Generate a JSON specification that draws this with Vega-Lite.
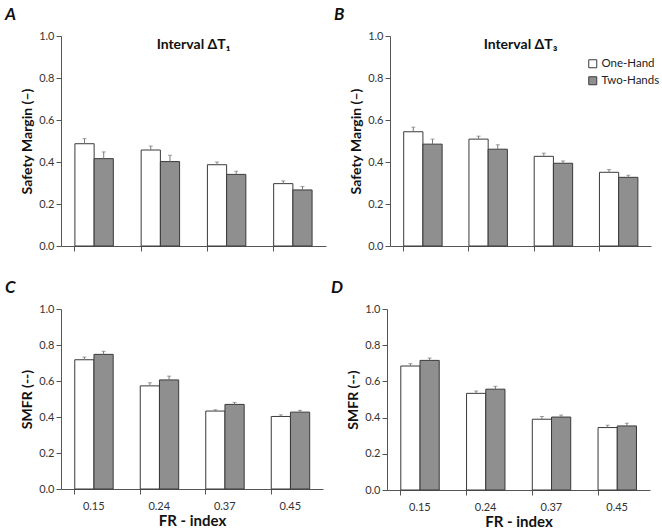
{
  "$schema": "https://vega.github.io/schema/vega-lite/v6.json",
  "padding": {"left": 5, "top": 6, "right": 5, "bottom": 2},
  "background": "white",
  "config": {
    "font": "Lato",
    "view": {"stroke": null},
    "axis": {"domainColor": "#555555", "tickColor": "#555555", "labelColor": "#333333", "labelFont": "Lato", "labelFontSize": 11, "titleFont": "Lato", "titleFontSize": 14, "titleFontWeight": "bold", "titleColor": "#111111", "grid": false},
    "axisY": {"tickCount": 6, "values": [0, 0.2, 0.4, 0.6, 0.8, 1.0], "format": ".1f", "labelOverlap": false, "titlePadding": 4},
    "title": {"font": "Lato", "fontSize": 17, "fontWeight": "bold", "fontStyle": "italic", "anchor": "start", "frame": "group", "dx": -56, "offset": 6, "color": "#111111"}
  },
  "datasets": {
    "bars": [
      {"panel": "A", "fr": "0.15", "hand": "One-Hand", "value": 0.487, "upper": 0.511},
      {"panel": "A", "fr": "0.15", "hand": "Two-Hands", "value": 0.416, "upper": 0.448},
      {"panel": "A", "fr": "0.24", "hand": "One-Hand", "value": 0.457, "upper": 0.476},
      {"panel": "A", "fr": "0.24", "hand": "Two-Hands", "value": 0.402, "upper": 0.432},
      {"panel": "A", "fr": "0.37", "hand": "One-Hand", "value": 0.387, "upper": 0.400},
      {"panel": "A", "fr": "0.37", "hand": "Two-Hands", "value": 0.341, "upper": 0.356},
      {"panel": "A", "fr": "0.45", "hand": "One-Hand", "value": 0.297, "upper": 0.310},
      {"panel": "A", "fr": "0.45", "hand": "Two-Hands", "value": 0.267, "upper": 0.283},
      {"panel": "B", "fr": "0.15", "hand": "One-Hand", "value": 0.544, "upper": 0.566},
      {"panel": "B", "fr": "0.15", "hand": "Two-Hands", "value": 0.485, "upper": 0.509},
      {"panel": "B", "fr": "0.24", "hand": "One-Hand", "value": 0.509, "upper": 0.523},
      {"panel": "B", "fr": "0.24", "hand": "Two-Hands", "value": 0.461, "upper": 0.482},
      {"panel": "B", "fr": "0.37", "hand": "One-Hand", "value": 0.427, "upper": 0.442},
      {"panel": "B", "fr": "0.37", "hand": "Two-Hands", "value": 0.394, "upper": 0.405},
      {"panel": "B", "fr": "0.45", "hand": "One-Hand", "value": 0.351, "upper": 0.364},
      {"panel": "B", "fr": "0.45", "hand": "Two-Hands", "value": 0.327, "upper": 0.337},
      {"panel": "C", "fr": "0.15", "hand": "One-Hand", "value": 0.718, "upper": 0.733},
      {"panel": "C", "fr": "0.15", "hand": "Two-Hands", "value": 0.748, "upper": 0.765},
      {"panel": "C", "fr": "0.24", "hand": "One-Hand", "value": 0.573, "upper": 0.590},
      {"panel": "C", "fr": "0.24", "hand": "Two-Hands", "value": 0.606, "upper": 0.627},
      {"panel": "C", "fr": "0.37", "hand": "One-Hand", "value": 0.433, "upper": 0.440},
      {"panel": "C", "fr": "0.37", "hand": "Two-Hands", "value": 0.470, "upper": 0.481},
      {"panel": "C", "fr": "0.45", "hand": "One-Hand", "value": 0.403, "upper": 0.412},
      {"panel": "C", "fr": "0.45", "hand": "Two-Hands", "value": 0.427, "upper": 0.437},
      {"panel": "D", "fr": "0.15", "hand": "One-Hand", "value": 0.685, "upper": 0.698},
      {"panel": "D", "fr": "0.15", "hand": "Two-Hands", "value": 0.716, "upper": 0.729},
      {"panel": "D", "fr": "0.24", "hand": "One-Hand", "value": 0.534, "upper": 0.547},
      {"panel": "D", "fr": "0.24", "hand": "Two-Hands", "value": 0.557, "upper": 0.573},
      {"panel": "D", "fr": "0.37", "hand": "One-Hand", "value": 0.391, "upper": 0.406},
      {"panel": "D", "fr": "0.37", "hand": "Two-Hands", "value": 0.403, "upper": 0.414},
      {"panel": "D", "fr": "0.45", "hand": "One-Hand", "value": 0.345, "upper": 0.358},
      {"panel": "D", "fr": "0.45", "hand": "Two-Hands", "value": 0.354, "upper": 0.369}
    ],
    "labels": [
      {"panel": "A", "label": "Interval ΔT₁", "y": 0.955},
      {"panel": "B", "label": "Interval ΔT₃", "y": 0.955}
    ]
  },
  "vconcat": [
    {
      "hconcat": [
        {
          "title": "A",
          "width": 265, "height": 210,
          "data": {"name": "bars"},
          "transform": [{"filter": "datum.panel === 'A'"}],
          "encoding": {
            "x": {"field": "fr", "type": "nominal", "scale": {"paddingInner": 0.42, "paddingOuter": 0.21}, "axis": {"title": null, "labels": false, "bandPosition": 0, "labelAngle": 0, "tickSize": 5}},
            "xOffset": {"field": "hand", "type": "nominal", "scale": {"paddingInner": 0, "domain": ["One-Hand", "Two-Hands"]}}
          },
          "layer": [
            {"mark": {"type": "bar", "stroke": "#3a3a3a", "strokeWidth": 1},
             "encoding": {
               "y": {"field": "value", "type": "quantitative", "scale": {"domain": [0, 1], "nice": false}, "axis": {"title": "Safety Margin (–)"}},
               "fill": {"field": "hand", "type": "nominal", "scale": {"domain": ["One-Hand", "Two-Hands"], "range": ["#ffffff", "#8f8f8f"]}, "legend": null}
             }},
            {"mark": {"type": "rule", "color": "#777777", "strokeWidth": 1},
             "encoding": {"y": {"field": "value", "type": "quantitative"}, "y2": {"field": "upper"}}},
            {"mark": {"type": "tick", "orient": "horizontal", "color": "#777777", "size": 4, "thickness": 1},
             "encoding": {"y": {"field": "upper", "type": "quantitative"}}},
            {"data": {"name": "labels"}, "transform": [{"filter": "datum.panel === 'A'"}],
             "mark": {"type": "text", "font": "Lato", "fontSize": 14, "fontWeight": "bold", "color": "#111111"},
             "encoding": {"y": {"field": "y", "type": "quantitative"}, "text": {"field": "label"}, "x": null, "xOffset": null}}
          ]
        },
        {
          "title": "B",
          "width": 261, "height": 210,
          "data": {"name": "bars"},
          "transform": [{"filter": "datum.panel === 'B'"}],
          "encoding": {
            "x": {"field": "fr", "type": "nominal", "scale": {"paddingInner": 0.42, "paddingOuter": 0.21}, "axis": {"title": null, "labels": false, "bandPosition": 0, "labelAngle": 0, "tickSize": 5}},
            "xOffset": {"field": "hand", "type": "nominal", "scale": {"paddingInner": 0, "domain": ["One-Hand", "Two-Hands"]}}
          },
          "layer": [
            {"mark": {"type": "bar", "stroke": "#3a3a3a", "strokeWidth": 1},
             "encoding": {
               "y": {"field": "value", "type": "quantitative", "scale": {"domain": [0, 1], "nice": false}, "axis": {"title": "Safety Margin (–)"}},
               "fill": {"field": "hand", "type": "nominal", "title": null, "scale": {"domain": ["One-Hand", "Two-Hands"], "range": ["#ffffff", "#8f8f8f"]},
                        "legend": {"orient": "none", "legendX": 197, "legendY": 22, "symbolType": "square", "symbolSize": 64, "symbolStrokeColor": "#3a3a3a", "symbolStrokeWidth": 1, "labelFont": "Lato", "labelFontSize": 11.5, "labelColor": "#222222", "labelOffset": 3, "rowPadding": 4, "padding": 0}}
             }},
            {"mark": {"type": "rule", "color": "#777777", "strokeWidth": 1},
             "encoding": {"y": {"field": "value", "type": "quantitative"}, "y2": {"field": "upper"}}},
            {"mark": {"type": "tick", "orient": "horizontal", "color": "#777777", "size": 4, "thickness": 1},
             "encoding": {"y": {"field": "upper", "type": "quantitative"}}},
            {"data": {"name": "labels"}, "transform": [{"filter": "datum.panel === 'B'"}],
             "mark": {"type": "text", "font": "Lato", "fontSize": 14, "fontWeight": "bold", "color": "#111111"},
             "encoding": {"y": {"field": "y", "type": "quantitative"}, "text": {"field": "label"}, "x": null, "xOffset": null}}
          ]
        }
      ],
      "spacing": 8,
      "resolve": {"scale": {"fill": "independent"}, "legend": {"fill": "independent"}}
    },
    {
      "hconcat": [
        {
          "title": "C",
          "width": 262, "height": 180,
          "data": {"name": "bars"},
          "transform": [{"filter": "datum.panel === 'C'"}],
          "encoding": {
            "x": {"field": "fr", "type": "nominal", "scale": {"paddingInner": 0.42, "paddingOuter": 0.21}, "axis": {"title": "FR - index", "titleFontSize": 15, "labelFontSize": 11, "bandPosition": 0, "labelAngle": 0, "tickSize": 5, "labelPadding": 6, "titlePadding": 2}},
            "xOffset": {"field": "hand", "type": "nominal", "scale": {"paddingInner": 0, "domain": ["One-Hand", "Two-Hands"]}}
          },
          "layer": [
            {"mark": {"type": "bar", "stroke": "#3a3a3a", "strokeWidth": 1},
             "encoding": {
               "y": {"field": "value", "type": "quantitative", "scale": {"domain": [0, 1], "nice": false}, "axis": {"title": "SMFR (--)"}},
               "fill": {"field": "hand", "type": "nominal", "scale": {"domain": ["One-Hand", "Two-Hands"], "range": ["#ffffff", "#8f8f8f"]}, "legend": null}
             }},
            {"mark": {"type": "rule", "color": "#777777", "strokeWidth": 1},
             "encoding": {"y": {"field": "value", "type": "quantitative"}, "y2": {"field": "upper"}}},
            {"mark": {"type": "tick", "orient": "horizontal", "color": "#777777", "size": 4, "thickness": 1},
             "encoding": {"y": {"field": "upper", "type": "quantitative"}}}
          ]
        },
        {
          "title": "D",
          "width": 263, "height": 181,
          "data": {"name": "bars"},
          "transform": [{"filter": "datum.panel === 'D'"}],
          "encoding": {
            "x": {"field": "fr", "type": "nominal", "scale": {"paddingInner": 0.42, "paddingOuter": 0.21}, "axis": {"title": "FR - index", "titleFontSize": 15, "labelFontSize": 11, "bandPosition": 0, "labelAngle": 0, "tickSize": 5, "labelPadding": 6, "titlePadding": 2}},
            "xOffset": {"field": "hand", "type": "nominal", "scale": {"paddingInner": 0, "domain": ["One-Hand", "Two-Hands"]}}
          },
          "layer": [
            {"mark": {"type": "bar", "stroke": "#3a3a3a", "strokeWidth": 1},
             "encoding": {
               "y": {"field": "value", "type": "quantitative", "scale": {"domain": [0, 1], "nice": false}, "axis": {"title": "SMFR (--)"}},
               "fill": {"field": "hand", "type": "nominal", "scale": {"domain": ["One-Hand", "Two-Hands"], "range": ["#ffffff", "#8f8f8f"]}, "legend": null}
             }},
            {"mark": {"type": "rule", "color": "#777777", "strokeWidth": 1},
             "encoding": {"y": {"field": "value", "type": "quantitative"}, "y2": {"field": "upper"}}},
            {"mark": {"type": "tick", "orient": "horizontal", "color": "#777777", "size": 4, "thickness": 1},
             "encoding": {"y": {"field": "upper", "type": "quantitative"}}}
          ]
        }
      ],
      "spacing": 8,
      "resolve": {"scale": {"fill": "independent"}}
    }
  ],
  "spacing": 27,
  "resolve": {"scale": {"fill": "independent"}, "legend": {"fill": "independent"}}
}
